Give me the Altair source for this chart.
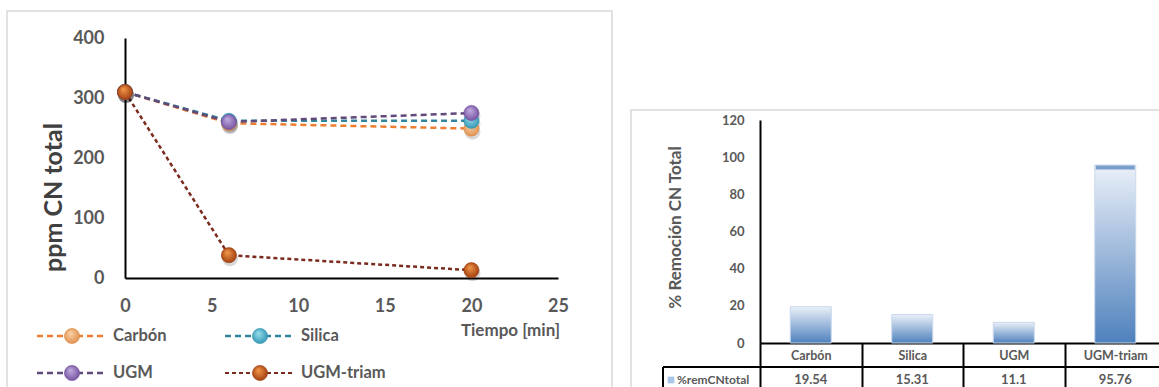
import altair as alt
import pandas as pd

# ---------------- data ----------------
tiempo = [0, 6, 20]
series = ["Carbón", "Silica", "UGM", "UGM-triam"]
carbon = [310, 258, 249]
silica = [310, 262, 262]
ugm = [310, 260, 275]
ugm_triam = [310, 38, 13]

categorias = ["Carbón", "Silica", "UGM", "UGM-triam"]
remocion = [19.54, 15.31, 11.1, 95.76]
remocion_txt = ["19.54", "15.31", "11.1", "95.76"]

x_ticks = [0, 5, 10, 15, 20, 25]
y_ticks = [0, 100, 200, 300, 400]
y2_ticks = [0, 20, 40, 60, 80, 100, 120]

# ---------------- styles ----------------
FONT = "Lato"
GRAY = "#595959"
line_colors = ["#ED7D31", "#31849B", "#604A7B", "#7B2A1E"]
line_widths = [2.5, 2.5, 2.5, 1.8]
dashes = [[6, 4], [6, 4], [6, 4], [4, 3]]
m_light = ["#FBD3AA", "#9BE0F0", "#C4AEE2", "#F39A4A"]
m_dark = ["#DE8A45", "#2A91AE", "#6C4A9A", "#9A360C"]


def sphere(i):
    return {"gradient": "radial", "x1": 0.38, "y1": 0.3, "r1": 0,
            "x2": 0.5, "y2": 0.5, "r2": 0.6,
            "stops": [{"offset": 0, "color": m_light[i]},
                      {"offset": 1, "color": m_dark[i]}]}


vals = [carbon, silica, ugm, ugm_triam]
rows = []
for s, v in zip(series, vals):
    for t, y in zip(tiempo, v):
        rows.append({"t": t, "ppm": y, "serie": s})
df = pd.DataFrame(rows)

df_bar = pd.DataFrame({"cat": categorias, "val": remocion, "txt": remocion_txt})
one = pd.DataFrame({"a": [0]})

# ---------------- left chart ----------------
XS = alt.Scale(domain=[0, 25], range=[125, 558], nice=False, zero=False)
YS = alt.Scale(domain=[0, 400], range=[278, 38], nice=False)

x_axis = alt.Axis(orient="bottom", offset=-109, values=x_ticks, ticks=False, tickSize=0,
                  grid=False, domainColor="black", domainWidth=2,
                  labelFont=FONT, labelFontSize=18, labelFontWeight="bold", labelColor=GRAY,
                  labelPadding=28, labelBaseline="middle", labelFlush=False, labelOverlap=False,
                  format="d", title="Tiempo [min]", titleFont=FONT, titleFontSize=17,
                  titleFontWeight="bold", titleColor=GRAY, titleX=510, titleY=52,
                  titleAlign="center", titleBaseline="middle")
y_axis = alt.Axis(orient="left", offset=-125, values=y_ticks, ticks=False, tickSize=0,
                  grid=False, domainColor="black", domainWidth=2,
                  labelFont=FONT, labelFontSize=18, labelFontWeight="bold", labelColor=GRAY,
                  labelPadding=21, labelOverlap=False, labelFlush=False, format="d",
                  title="ppm CN total", titleFont=FONT, titleFontSize=25, titleFontWeight="bold",
                  titleColor="#404040", titleX=-72, titleY=197, titleAngle=270,
                  titleAlign="center", titleBaseline="middle")

lines = alt.Chart(df).mark_line().encode(
    x=alt.X("t:Q", scale=XS, axis=x_axis),
    y=alt.Y("ppm:Q", scale=YS, axis=y_axis),
    color=alt.Color("serie:N", scale=alt.Scale(domain=series, range=line_colors), legend=None),
    strokeDash=alt.StrokeDash("serie:N", scale=alt.Scale(domain=series, range=dashes), legend=None),
    strokeWidth=alt.StrokeWidth("serie:N", scale=alt.Scale(domain=series, range=line_widths), legend=None),
)

shadows = alt.Chart(df).mark_point(shape="circle", filled=True, color="#000000", opacity=0.15,
                                   size=260, xOffset=1, yOffset=3).encode(
    x=alt.X("t:Q", scale=XS, axis=None), y=alt.Y("ppm:Q", scale=YS, axis=None))

point_layers = []
for i, s in enumerate(series):
    point_layers.append(
        alt.Chart(df[df["serie"] == s]).mark_point(
            shape="circle", filled=True, fill=sphere(i), opacity=1, size=230,
            stroke=m_dark[i], strokeWidth=0.6).encode(
            x=alt.X("t:Q", scale=XS, axis=None), y=alt.Y("ppm:Q", scale=YS, axis=None))
    )

# ---------------- right chart ----------------
XB = alt.Scale(domain=categorias, range=[760, 1166], paddingInner=0, paddingOuter=0)
YB = alt.Scale(domain=[0, 120], range=[343, 120], nice=False)

xb_axis = alt.Axis(orient="bottom", offset=-44, ticks=True, tickBand="extent", tickSize=50,
                   tickColor="black", tickWidth=2, domainColor="black", domainWidth=2, grid=False,
                   labelFont=FONT, labelFontSize=12.5, labelFontWeight="bold", labelColor=GRAY,
                   labelPadding=-38, labelBaseline="middle", labelAngle=0, labelOverlap=False,
                   title=None)
yb_axis = alt.Axis(orient="left", offset=-760, values=y2_ticks, ticks=False, tickSize=0, grid=False,
                   domainColor="black", domainWidth=2,
                   labelFont=FONT, labelFontSize=13, labelFontWeight="bold", labelColor=GRAY,
                   labelPadding=16, labelOverlap=False, labelFlush=False,
                   title="% Remoción CN Total", titleFont=FONT, titleFontSize=17,
                   titleFontWeight="bold", titleColor=GRAY, titleX=-85, titleY=227,
                   titleAngle=270, titleAlign="center", titleBaseline="middle")

bar_grad = {"gradient": "linear", "x1": 0, "x2": 0, "y1": 0, "y2": 1,
            "stops": [{"offset": 0, "color": "#EAF0F8"},
                      {"offset": 1, "color": "#4F81BD"}]}

bars = alt.Chart(df_bar).mark_bar(width=41, fill=bar_grad, stroke="#C9D8EC", strokeWidth=1).encode(
    x=alt.X("cat:N", scale=XB, axis=xb_axis, sort=categorias),
    y=alt.Y("val:Q", scale=YB, axis=yb_axis),
)
cap = alt.Chart(df_bar).transform_filter(alt.datum.cat == "UGM-triam").mark_tick(
    color="#4A7EBB", thickness=4, size=39, yOffset=2.5).encode(
    x=alt.X("cat:N", scale=XB, axis=None, sort=categorias),
    y=alt.Y("val:Q", scale=YB, axis=None),
)
vals_txt = alt.Chart(df_bar).mark_text(font=FONT, fontSize=13, fontWeight="bold", color=GRAY,
                                       baseline="middle").encode(
    x=alt.X("cat:N", scale=XB, axis=None, sort=categorias),
    y=alt.value(380),
    text="txt:N",
)

# ---------------- decorations: frames, table, legend ----------------
frame_l = alt.Chart(one).mark_rect(filled=False, stroke="#D9D9D9", strokeWidth=1.5).encode(
    x=alt.value(7), x2=alt.value(612), y=alt.value(11), y2=alt.value(430))
frame_r = alt.Chart(one).mark_rect(filled=False, stroke="#D9D9D9", strokeWidth=1.5).encode(
    x=alt.value(631), x2=alt.value(1200), y=alt.value(110), y2=alt.value(430))

row_line = alt.Chart(one).mark_rule(color="black", strokeWidth=2).encode(
    x=alt.value(663), x2=alt.value(1166), y=alt.value(367))
row_left = alt.Chart(one).mark_rule(color="black", strokeWidth=2).encode(
    x=alt.value(663), y=alt.value(367), y2=alt.value(400))
row_icon = alt.Chart(one).mark_square(color="#A9C6E8", size=45, opacity=1).encode(
    x=alt.value(671), y=alt.value(380))
row_label = alt.Chart(one).mark_text(text="%remCNtotal", font=FONT, fontSize=12, fontWeight="bold",
                                     color=GRAY, align="left", baseline="middle").encode(
    x=alt.value(677), y=alt.value(380))

leg_x = [37, 225]
leg_y = [336, 373]
legend_layers = []
for i, s in enumerate(series):
    x0 = leg_x[i % 2]
    y0 = leg_y[i // 2]
    legend_layers.append(alt.Chart(one).mark_rule(
        color=line_colors[i], strokeWidth=line_widths[i], strokeDash=dashes[i]).encode(
        x=alt.value(x0), x2=alt.value(x0 + 68), y=alt.value(y0)))
    legend_layers.append(alt.Chart(one).mark_point(
        shape="circle", filled=True, fill=sphere(i), opacity=1, size=230,
        stroke=m_dark[i], strokeWidth=0.6).encode(x=alt.value(x0 + 35), y=alt.value(y0)))
    legend_layers.append(alt.Chart(one).mark_text(
        text=s, font=FONT, fontSize=16.5, fontWeight="bold", color=GRAY,
        align="left", baseline="middle").encode(x=alt.value(x0 + 76), y=alt.value(y0)))

chart = alt.layer(
    frame_l, frame_r, lines, shadows, *point_layers, bars, cap, vals_txt,
    row_line, row_left, row_icon, row_label, *legend_layers
).resolve_scale(
    x="independent", y="independent", color="independent",
    strokeDash="independent", strokeWidth="independent"
).resolve_axis(
    x="independent", y="independent"
).properties(
    width=1159, height=387, padding=0,
    autosize=alt.AutoSizeParams(type="none"),
    background="white",
).configure_view(stroke="transparent")

chart.save("out.html", embed_options={"renderer": "svg", "actions": False})
